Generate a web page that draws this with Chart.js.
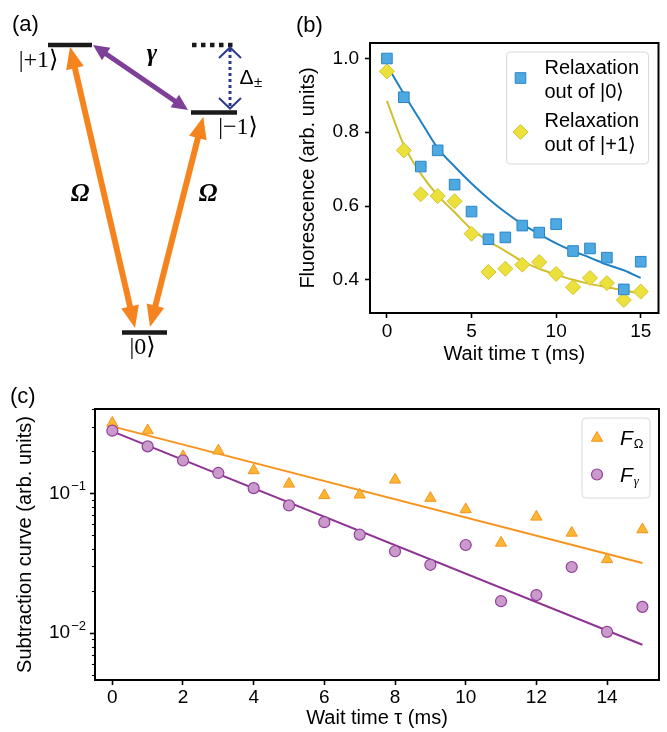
<!DOCTYPE html>
<html>
<head>
<meta charset="utf-8">
<script src="https://cdn.jsdelivr.net/npm/chart.js@4.4.1/dist/chart.umd.min.js"></script>
<style>
  body { margin: 0; background: #fff; }
  #fig { position: relative; width: 667px; height: 732px; font-family: "Liberation Sans", Arial, sans-serif; }
  #fig canvas { position: absolute; }
  .tag { position: absolute; font-size: 22px; line-height: 22px; color: #000; }
</style>
</head>
<body>
<div id="fig">
  <canvas id="diagram" width="290" height="365" style="left:0;top:0"></canvas>
  <canvas id="relax" width="377" height="370" style="left:290px;top:0"></canvas>
  <canvas id="subtr" width="667" height="367" style="left:0;top:365px"></canvas>
  <div class="tag" style="left:12px;top:13px">(a)</div>
  <div class="tag" style="left:296px;top:14px">(b)</div>
  <div class="tag" style="left:10px;top:385px">(c)</div>
</div>
<script>
// panel (b): fluorescence vs wait time
const waitB = [0, 1, 2, 3, 4, 5, 6, 7, 8, 9, 10, 11, 12, 13, 14, 15];
const relaxOut0 = [1.000, 0.895, 0.707, 0.751, 0.658, 0.585, 0.510, 0.515, 0.547, 0.528, 0.551, 0.478, 0.485, 0.460, 0.374, 0.449];
const relaxOutP1 = [0.965, 0.751, 0.632, 0.627, 0.613, 0.525, 0.421, 0.430, 0.441, 0.448, 0.416, 0.380, 0.405, 0.391, 0.345, 0.368];
const fitOut0 = [0.982, 0.904, 0.830, 0.757, 0.707, 0.661, 0.620, 0.583, 0.551, 0.524, 0.499, 0.478, 0.460, 0.441, 0.426, 0.405];
const fitOutP1 = [0.885, 0.765, 0.688, 0.629, 0.583, 0.537, 0.505, 0.478, 0.450, 0.430, 0.414, 0.400, 0.389, 0.380, 0.371, 0.363];
const xTicksB = [0, 5, 10, 15];
const yTicksB = [0.4, 0.6, 0.8, 1.0];
const legendB = [["Relaxation", "out of |0\u27E9"], ["Relaxation", "out of |+1\u27E9"]];

// panel (c): subtraction curves (log scale)
const waitC = [0, 1, 2, 3, 4, 5, 6, 7, 8, 9, 10, 11, 12, 13, 14, 15];
const fOmega = [0.319, 0.282, 0.184, 0.202, 0.146, 0.117, 0.0968, 0.0978, 0.125, 0.0925, 0.0767, 0.0442, 0.0679, 0.0521, 0.0337, 0.0551];
const fGamma = [0.281, 0.217, 0.172, 0.140, 0.109, 0.082, 0.0622, 0.0507, 0.0385, 0.0308, 0.0427, 0.0169, 0.0187, 0.0297, 0.0102, 0.0154];
const fitWaitC = [0, 15];
const fitOmega = [0.302, 0.0317];
const fitGamma = [0.278, 0.00824];
const xTicksC = [0, 2, 4, 6, 8, 10, 12, 14];
const yMajorC = [0.01, 0.1];
const yMinorC = [0.005, 0.006, 0.007, 0.008, 0.009, 0.02, 0.03, 0.04, 0.05, 0.06, 0.07, 0.08, 0.09, 0.2, 0.3, 0.4];

// panel (a): level scheme (schematic units)
const levelNames = ["|+1\u27E9", "|\u22121\u27E9", "|0\u27E9"];
const levelFrom = [4.8, 19.1, 12.2];
const levelTo = [9.2, 23.7, 16.7];
const levelEnergy = [32.0, 25.25, 3.25];

Chart.defaults.font.family = '"Liberation Sans", Arial, sans-serif';
Chart.defaults.color = "#000";
Chart.defaults.animation = false;

const SANS = '"Liberation Sans", Arial, sans-serif';
const SERIF = '"Liberation Serif", "DejaVu Serif", serif';
const pts = (xs, ys) => xs.map((x, i) => ({ x: x, y: ys[i] }));

// black frame around the plot area
const frame = {
  id: "frame",
  afterDraw(chart) {
    if (!chart.options.plugins.frame) return;
    const { ctx, chartArea: a } = chart;
    ctx.save();
    ctx.lineWidth = 2;
    ctx.strokeStyle = "#000";
    ctx.strokeRect(a.left, a.top, a.right - a.left, a.bottom - a.top);
    ctx.restore();
  }
};

// legend box with markers taken from the datasets
function drawLegendBox(chart, box, rows) {
  const ctx = chart.ctx;
  ctx.save();
  ctx.beginPath();
  ctx.roundRect(box.x, box.y, box.w, box.h, 4);
  ctx.fillStyle = "rgba(255,255,255,0.85)";
  ctx.fill();
  ctx.strokeStyle = "#d9d9d9";
  ctx.lineWidth = 1;
  ctx.stroke();
  rows.forEach(r => {
    const ds = chart.data.datasets[r.ds];
    ctx.fillStyle = ds.backgroundColor;
    ctx.strokeStyle = ds.borderColor;
    ctx.lineWidth = ds.borderWidth;
    Chart.helpers.drawPoint(ctx, { pointStyle: ds.pointStyle, radius: r.radius, borderWidth: ds.borderWidth, rotation: 0 }, box.x + r.mx, box.y + r.my);
    r.draw(ctx, box.x + r.tx, box.y);
  });
  ctx.restore();
}

// ---------- panel (a) ----------
function arrow(ctx, x0, y0, x1, y1, w, hl, hw, color) {
  const dx = x1 - x0, dy = y1 - y0, L = Math.hypot(dx, dy);
  const ux = dx / L, uy = dy / L, nx = -uy, ny = ux;
  ctx.save();
  ctx.strokeStyle = color;
  ctx.fillStyle = color;
  ctx.lineWidth = w;
  ctx.beginPath();
  ctx.moveTo(x0 + ux * hl * 0.8, y0 + uy * hl * 0.8);
  ctx.lineTo(x1 - ux * hl * 0.8, y1 - uy * hl * 0.8);
  ctx.stroke();
  [[x0, y0, 1], [x1, y1, -1]].forEach(([px, py, s]) => {
    const bx = px + s * ux * hl, by = py + s * uy * hl;
    ctx.beginPath();
    ctx.moveTo(px, py);
    ctx.lineTo(bx + nx * hw / 2, by + ny * hw / 2);
    ctx.lineTo(bx - nx * hw / 2, by - ny * hw / 2);
    ctx.closePath();
    ctx.fill();
  });
  ctx.restore();
}

const scheme = {
  id: "scheme",
  afterDatasetsDraw(chart) {
    const ctx = chart.ctx;
    const X = v => chart.scales.x.getPixelForValue(v);
    const Y = v => chart.scales.y.getPixelForValue(v);
    // couplings
    arrow(ctx, X(9.3), Y(32.0), X(18.8), Y(25.5), 5, 16, 15, "#7e3f98");
    arrow(ctx, X(7.0), Y(31.83), X(13.5), Y(3.7), 6, 22, 18, "#f5841f");
    arrow(ctx, X(20.33), Y(24.83), X(15.0), Y(3.8), 6, 22, 18, "#f5841f");
    // detuning: dotted line with open chevrons
    ctx.save();
    ctx.strokeStyle = "#2b3a8f";
    ctx.lineWidth = 3;
    ctx.setLineDash([3, 3]);
    ctx.beginPath();
    ctx.moveTo(X(23.0), Y(31.6));
    ctx.lineTo(X(23.0), Y(25.8));
    ctx.stroke();
    ctx.setLineDash([]);
    ctx.lineWidth = 2;
    ctx.beginPath();
    ctx.moveTo(X(21.9), Y(30.7)); ctx.lineTo(X(23.0), Y(31.75)); ctx.lineTo(X(24.1), Y(30.7));
    ctx.moveTo(X(21.9), Y(26.7)); ctx.lineTo(X(23.0), Y(25.65)); ctx.lineTo(X(24.1), Y(26.7));
    ctx.stroke();
    ctx.restore();
    // labels
    ctx.save();
    ctx.fillStyle = "#000";
    ctx.textBaseline = "middle";
    ctx.textAlign = "center";
    ctx.font = "24px " + SERIF;
    const lx = [3.85, 23.8, 14.25], ly = [30.4, 23.75, 1.75];
    levelNames.forEach((n, i) => ctx.fillText(n, X(lx[i]), Y(ly[i])));
    ctx.font = "bold italic 25px " + SERIF;
    ctx.fillText("\u03B3", X(15.2), Y(31.0));
    ctx.fillText("\u03A9", X(8.0), Y(17.0));
    ctx.fillText("\u03A9", X(20.8), Y(17.0));
    ctx.textAlign = "left";
    ctx.font = "21px " + SANS;
    ctx.fillText("\u0394", X(23.95), Y(28.7));
    ctx.font = "15px " + SANS;
    ctx.fillText("\u00B1", X(25.4), Y(28.2));
    ctx.restore();
  }
};

const levelSets = levelNames.map((n, i) => ({
  label: n,
  data: [{ x: levelFrom[i], y: levelEnergy[i] }, { x: levelTo[i], y: levelEnergy[i] }],
  showLine: true, borderColor: "#1a1a1a", borderWidth: 4.5, pointRadius: 0, borderCapStyle: "butt"
}));
levelSets.push({
  label: "unshifted",
  data: [{ x: 19.2, y: levelEnergy[0] }, { x: 23.7, y: levelEnergy[0] }],
  showLine: true, borderColor: "#1a1a1a", borderWidth: 4.5, pointRadius: 0, borderDash: [4.5, 4.5], borderCapStyle: "butt"
});

new Chart(document.getElementById("diagram"), {
  type: "scatter",
  data: { datasets: levelSets },
  options: {
    responsive: false,
    layout: { padding: 0 },
    plugins: { legend: { display: false }, tooltip: { enabled: false } },
    scales: {
      x: { display: false, min: 0, max: 29 },
      y: { display: false, min: 0, max: 36.5 }
    }
  },
  plugins: [scheme]
});

// ---------- panel (b) ----------
const legendPluginB = {
  id: "legendB",
  afterDraw(chart) {
    const a = chart.chartArea;
    const box = { x: a.right - 152, y: a.top + 9, w: 142, h: 112 };
    const rows = [0, 1].map(k => ({
      ds: k, radius: 7.5, mx: 14, my: 26 + k * 54, tx: 38,
      draw(ctx, x, y0) {
        ctx.fillStyle = "#000";
        ctx.font = "20px " + SANS;
        ctx.textBaseline = "middle";
        ctx.textAlign = "left";
        ctx.fillText(legendB[k][0], x, y0 + 16 + k * 53);
        ctx.fillText(legendB[k][1], x, y0 + 40 + k * 53);
      }
    }));
    drawLegendBox(chart, box, rows);
  }
};

const axisBase = {
  grid: { drawOnChartArea: false, tickLength: 5, tickWidth: 1.6, tickColor: "#000" },
  border: { display: false }
};

new Chart(document.getElementById("relax"), {
  type: "scatter",
  data: {
    datasets: [
      { label: legendB[0].join(" "), data: pts(waitB, relaxOut0), pointStyle: "rect", pointRadius: 7.5,
        backgroundColor: "#4ea9e2", borderColor: "#2a86c8", borderWidth: 1 },
      { label: legendB[1].join(" "), data: pts(waitB, relaxOutP1), pointStyle: "rectRot", pointRadius: 7.5,
        backgroundColor: "#ebe03c", borderColor: "#d3c52c", borderWidth: 1 },
      { label: "fit 0", data: pts(waitB, fitOut0), showLine: true, pointRadius: 0, borderColor: "#1f80c4",
        borderWidth: 2, cubicInterpolationMode: "monotone" },
      { label: "fit +1", data: pts(waitB, fitOutP1), showLine: true, pointRadius: 0, borderColor: "#d2bf2c",
        borderWidth: 2, cubicInterpolationMode: "monotone" }
    ]
  },
  options: {
    responsive: false,
    layout: { padding: { left: 0, top: 43, right: 7, bottom: 0 } },
    plugins: { legend: { display: false }, tooltip: { enabled: false }, frame: true },
    scales: {
      x: Object.assign({}, axisBase, {
        type: "linear", min: -1, max: 16.05,
        afterBuildTicks: s => { s.ticks = xTicksB.map(v => ({ value: v })); },
        afterFit: s => { s.height = 57; },
        ticks: { font: { size: 19 }, padding: 2, autoSkip: false, maxRotation: 0 },
        title: { display: true, text: "Wait time \u03C4 (ms)", font: { size: 20 }, padding: { top: 0, bottom: 4 } }
      }),
      y: Object.assign({}, axisBase, {
        min: 0.31, max: 1.042,
        afterBuildTicks: s => { s.ticks = yTicksB.map(v => ({ value: v })); },
        afterFit: s => { s.width = 80; },
        ticks: { font: { size: 19 }, padding: 6, autoSkip: false, callback: v => v.toFixed(1) },
        title: { display: true, text: "Fluorescence (arb. units)", font: { size: 20 }, padding: { top: 6, bottom: 0 } }
      })
    }
  },
  plugins: [frame, legendPluginB]
});

// ---------- panel (c) ----------
const logAxisPlugin = {
  id: "logAxis",
  afterDraw(chart) {
    const ctx = chart.ctx, y = chart.scales.y, left = chart.chartArea.left;
    ctx.save();
    ctx.strokeStyle = "#000";
    ctx.lineWidth = 1.1;
    yMinorC.forEach(v => {
      const py = Math.round(y.getPixelForValue(v)) + 0.5;
      ctx.beginPath();
      ctx.moveTo(left - 3, py);
      ctx.lineTo(left, py);
      ctx.stroke();
    });
    ctx.fillStyle = "#000";
    ctx.textBaseline = "middle";
    yMajorC.forEach(v => {
      const py = y.getPixelForValue(v);
      const sup = "\u2212" + Math.abs(Math.round(Math.log10(v)));
      ctx.font = "13px " + SANS;
      const ws = ctx.measureText(sup).width;
      const right = left - 9;
      ctx.textAlign = "left";
      ctx.fillText(sup, right - ws, py - 7);
      ctx.font = "19px " + SANS;
      ctx.textAlign = "right";
      ctx.fillText("10", right - ws - 1, py);
    });
    ctx.restore();
  }
};

const legendPluginC = {
  id: "legendC",
  afterDraw(chart) {
    const a = chart.chartArea;
    const box = { x: a.right - 77, y: a.top + 9, w: 68, h: 80 };
    const subs = ["\u03A9", "\u03B3"];
    const rows = [1, 0].map((ds, k) => ({
      ds: ds, radius: ds === 1 ? 6.5 : 5.5, mx: 15, my: 20 + k * 36.5, tx: 38,
      draw(ctx, x, y0) {
        const base = y0 + 27 + k * 36.5;
        ctx.fillStyle = "#000";
        ctx.textBaseline = "alphabetic";
        ctx.textAlign = "left";
        ctx.font = "italic 21px " + SANS;
        ctx.fillText("F", x, base);
        const w = ctx.measureText("F").width;
        ctx.font = (k === 0 ? "" : "italic ") + "13px " + (k === 0 ? SANS : SERIF);
        ctx.fillText(subs[k], x + w + 1, base + 3);
      }
    }));
    drawLegendBox(chart, box, rows);
  }
};

new Chart(document.getElementById("subtr"), {
  type: "scatter",
  data: {
    datasets: [
      { label: "F\u03B3", data: pts(waitC, fGamma), pointStyle: "circle", pointRadius: 5.5,
        backgroundColor: "#c99acb", borderColor: "#923f9a", borderWidth: 1.2 },
      { label: "F\u03A9", data: pts(waitC, fOmega), pointStyle: "triangle", pointRadius: 6.5,
        backgroundColor: "#fdb631", borderColor: "#f39422", borderWidth: 1 },
      { label: "fit \u03A9", data: pts(fitWaitC, fitOmega), showLine: true, pointRadius: 0,
        borderColor: "#f7941e", borderWidth: 2 },
      { label: "fit \u03B3", data: pts(fitWaitC, fitGamma), showLine: true, pointRadius: 0,
        borderColor: "#8e3394", borderWidth: 2 }
    ]
  },
  options: {
    responsive: false,
    layout: { padding: { left: 0, top: 44, right: 8, bottom: 0 } },
    plugins: { legend: { display: false }, tooltip: { enabled: false }, frame: true },
    scales: {
      x: Object.assign({}, axisBase, {
        type: "linear", min: -0.49, max: 15.47,
        afterBuildTicks: s => { s.ticks = xTicksC.map(v => ({ value: v })); },
        afterFit: s => { s.height = 52; },
        ticks: { font: { size: 19 }, padding: 1, autoSkip: false, maxRotation: 0 },
        title: { display: true, text: "Wait time \u03C4 (ms)", font: { size: 20 }, padding: { top: 0, bottom: 2 } }
      }),
      y: Object.assign({}, axisBase, {
        type: "logarithmic", min: 0.00461, max: 0.402,
        afterBuildTicks: s => { s.ticks = yMajorC.map(v => ({ value: v })); },
        afterFit: s => { s.width = 95; },
        ticks: { display: false, autoSkip: false },
        title: { display: true, text: "Subtraction curve (arb. units)", font: { size: 20 }, padding: { top: 13, bottom: 0 } }
      })
    }
  },
  plugins: [frame, logAxisPlugin, legendPluginC]
});
</script>
</body>
</html>
